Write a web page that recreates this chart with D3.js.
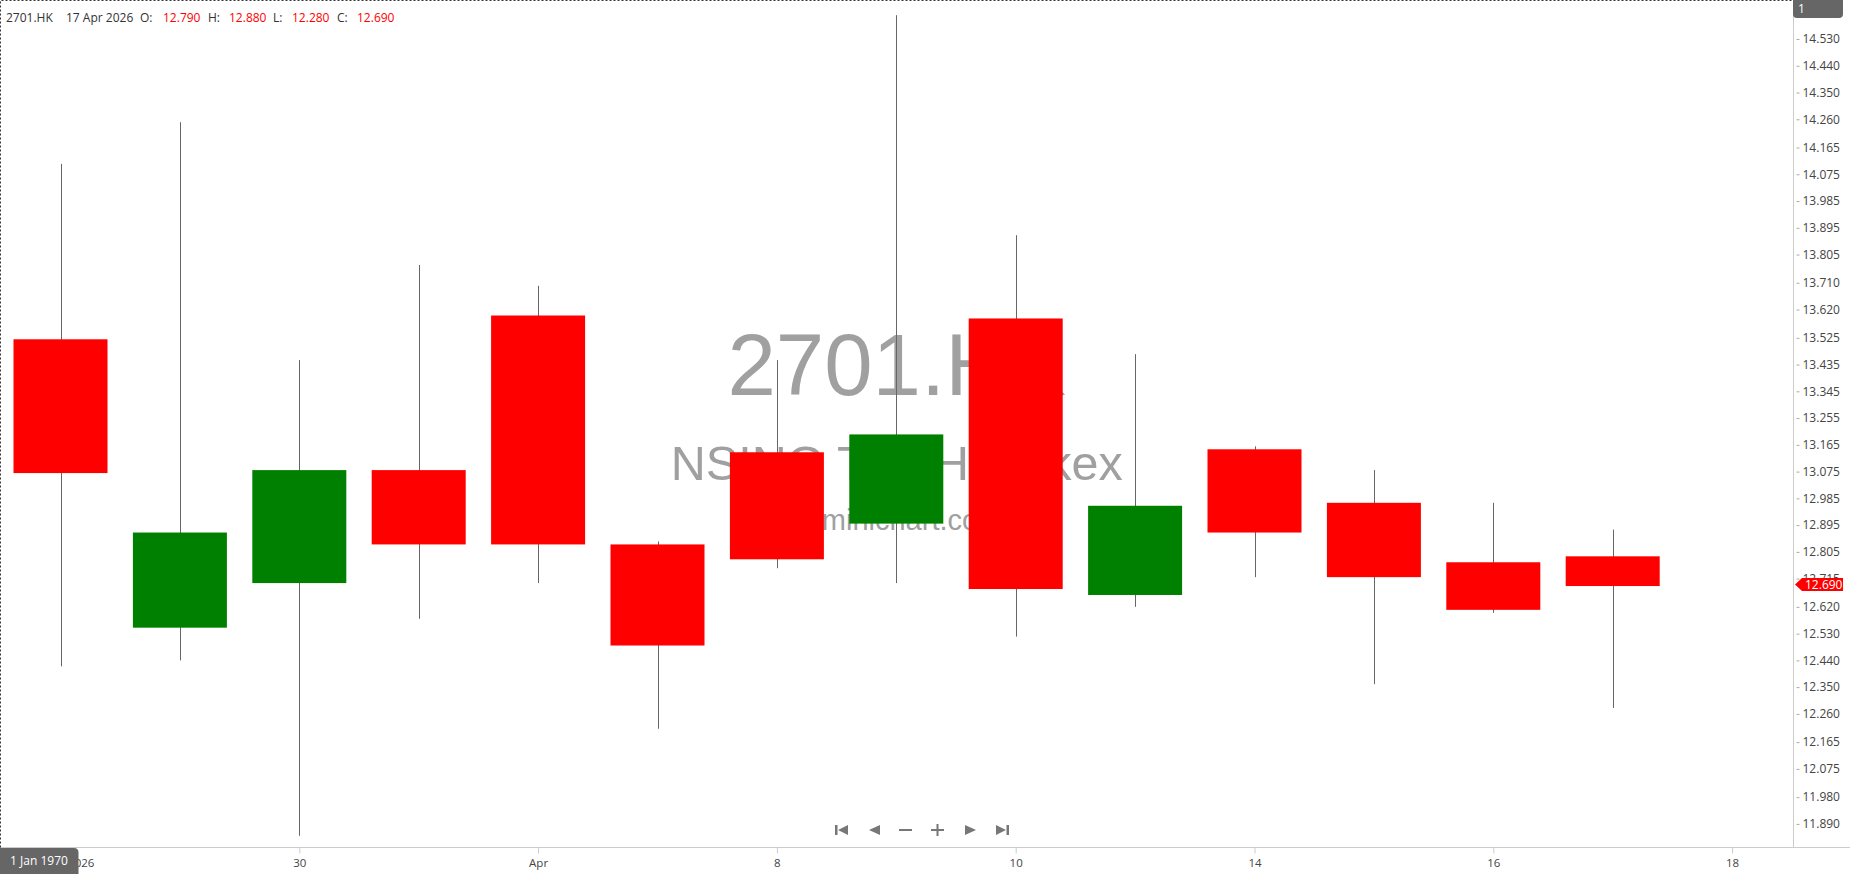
<!DOCTYPE html>
<html>
<head>
<meta charset="utf-8">
<script src="https://cdn.jsdelivr.net/npm/d3@7/dist/d3.min.js"></script>
<style>
    body { margin: 0; background: #fff; overflow: hidden; }
    #testbed text { font-family: "Open Sans", "Noto Sans", sans-serif; }
</style>
</head>
<body>
<div id="testbed"></div>
<script>

//Chart values (one entry per trading day)
var dates = ["26 Mar 2026","27 Mar 2026","30 Mar 2026","31 Mar 2026","1 Apr 2026","2 Apr 2026","8 Apr 2026",
    "9 Apr 2026","10 Apr 2026","13 Apr 2026","14 Apr 2026","15 Apr 2026","16 Apr 2026","17 Apr 2026"];
var opens  = [13.52, 12.55, 12.70, 13.08, 13.60, 12.83, 13.14, 12.90, 13.59, 12.66, 13.15, 12.97, 12.77, 12.79];
var highs  = [14.11, 14.25, 13.45, 13.77, 13.70, 12.84, 13.45, 14.61, 13.87, 13.47, 13.16, 13.08, 12.97, 12.88];
var lows   = [12.42, 12.44, 11.85, 12.58, 12.70, 12.21, 12.75, 12.70, 12.52, 12.62, 12.72, 12.36, 12.60, 12.28];
var closes = [13.07, 12.87, 13.08, 12.83, 12.83, 12.49, 12.78, 13.20, 12.68, 12.96, 12.87, 12.72, 12.61, 12.69];

//Axis labels
var xTickIndex = [0, 2, 4, 6, 8, 10, 12, 14];
var xTickLabels = ["26 Mar 2026", "30", "Apr", "8", "10", "14", "16", "18"];
var priceTicks = [14.530, 14.440, 14.350, 14.260, 14.165, 14.075, 13.985, 13.895, 13.805, 13.710,
    13.620, 13.525, 13.435, 13.345, 13.255, 13.165, 13.075, 12.985, 12.895, 12.805,
    12.715, 12.620, 12.530, 12.440, 12.350, 12.260, 12.165, 12.075, 11.980, 11.890];

var symbol = "2701.HK";
var company = "NSING TECH - Hkex";
var site = "www.minichart.com.sg";

//System dimensions
var width = 1850;
var height = 874;
var plotRight = 1793.5;
var plotBottom = 847.5;

var candles = dates.map(function(d, i) {
    return {date: d, i: i, o: opens[i], h: highs[i], l: lows[i], c: closes[i]};
});
var last = candles[candles.length - 1];

//Scales
var x = d3.scaleLinear()
    .domain([0, 14])
    .range([60.5, 1732.1]);
var y = d3.scaleLinear()
    .domain([11.890, 14.530])
    .range([823.9, 39]);
var bodyWidth = 94;

//Main Canvas
var svg = d3.select("#testbed")
    .append("svg")
    .attr("width", width)
    .attr("height", height);

svg.append("rect")
    .attr("width", width)
    .attr("height", height)
    .attr("fill", "#fff");

//Watermark
var mark = svg.append("g")
    .attr("fill", "#a0a0a0")
    .attr("text-anchor", "middle");
mark.append("text")
    .attr("x", plotRight / 2)
    .attr("y", 395)
    .style("font-family", "'Liberation Sans', Arial, sans-serif")
    .style("font-size", "87px")
    .text(symbol);
mark.append("text")
    .attr("x", plotRight / 2)
    .attr("y", 480)
    .style("font-family", "'Liberation Sans', Arial, sans-serif")
    .style("font-size", "48.5px")
    .text(company);
mark.append("text")
    .attr("x", plotRight / 2)
    .attr("y", 530)
    .style("font-family", "'Liberation Sans', Arial, sans-serif")
    .style("font-size", "29px")
    .text(site);

//Wicks
svg.append("g")
    .selectAll("line")
    .data(candles)
    .enter()
    .append("line")
    .attr("x1", function(d) { return Math.round(x(d.i)) + 0.5; })
    .attr("x2", function(d) { return Math.round(x(d.i)) + 0.5; })
    .attr("y1", function(d) { return y(d.h); })
    .attr("y2", function(d) { return y(d.l); })
    .attr("stroke", "#666")
    .attr("stroke-width", 1);

//Bodies
svg.append("g")
    .selectAll("rect")
    .data(candles)
    .enter()
    .append("rect")
    .attr("x", function(d) { return x(d.i) - bodyWidth / 2; })
    .attr("y", function(d) { return y(Math.max(d.o, d.c)); })
    .attr("width", bodyWidth)
    .attr("height", function(d) { return Math.max(1, Math.abs(y(d.o) - y(d.c))); })
    .attr("fill", function(d) { return d.c >= d.o ? "#008000" : "#ff0000"; });

//Frame lines
svg.append("line")
    .attr("x1", 0).attr("x2", width)
    .attr("y1", plotBottom).attr("y2", plotBottom)
    .attr("stroke", "#ccc");
svg.append("line")
    .attr("x1", plotRight).attr("x2", plotRight)
    .attr("y1", 0).attr("y2", plotBottom)
    .attr("stroke", "#ccc");
svg.append("path")
    .attr("d", "M0.5," + plotBottom + "V0.5H" + plotRight)
    .attr("fill", "none")
    .attr("stroke", "#333")
    .attr("stroke-dasharray", "2,2");

//Price axis
var yAxis = svg.append("g")
    .attr("transform", "translate(" + plotRight + ",0)")
    .call(d3.axisRight(y)
        .tickValues(priceTicks)
        .tickFormat(d3.format(".3f"))
        .tickSize(6)
        .tickPadding(3));
yAxis.select(".domain").remove();
yAxis.selectAll(".tick line")
    .attr("x1", 3)
    .attr("stroke", "#aaa");
yAxis.selectAll(".tick text")
    .attr("fill", "#444")
    .style("font-size", "12px");

//Date axis
var xAxis = svg.append("g")
    .attr("transform", "translate(0," + plotBottom + ")")
    .call(d3.axisBottom(x)
        .tickValues(xTickIndex)
        .tickFormat(function(d, i) { return xTickLabels[i]; })
        .tickSize(6)
        .tickPadding(5));
xAxis.select(".domain").remove();
xAxis.selectAll(".tick line").attr("stroke", "#ccc");
xAxis.selectAll(".tick text")
    .attr("fill", "#444")
    .style("font-size", "11.5px");

//Last price tag
var tagY = y(last.c) - 1.5;
svg.append("path")
    .attr("d", "M1795," + tagY + "L1802," + (tagY - 6.5) + "H1843V" + (tagY + 6.5) + "H1802Z")
    .attr("fill", "#ff0000");
svg.append("text")
    .attr("x", 1805)
    .attr("y", tagY)
    .attr("dy", "0.35em")
    .attr("fill", "#fff")
    .style("font-size", "12px")
    .text(d3.format(".3f")(last.c));

//Scale box top right
svg.append("path")
    .attr("d", "M1793,0H1843V14Q1843,18 1839,18H1797Q1793,18 1793,14Z")
    .attr("fill", "#666");
svg.append("text")
    .attr("x", 1798)
    .attr("y", 9)
    .attr("dy", "0.35em")
    .attr("fill", "#fff")
    .style("font-size", "12px")
    .text("1");

//Crosshair date box bottom left
svg.append("path")
    .attr("d", "M0,848H74Q78.5,848 78.5,852.5V874H0Z")
    .attr("fill", "#666");
svg.append("text")
    .attr("x", 39)
    .attr("y", 861)
    .attr("dy", "0.35em")
    .attr("text-anchor", "middle")
    .attr("fill", "#fff")
    .style("font-size", "12px")
    .text("1 Jan 1970");

//Navigation buttons
var nav = svg.append("g").attr("fill", "#777").attr("stroke", "#777");
nav.append("path").attr("stroke", "none").attr("d", "M835,825h2.5v10h-2.5Z M848,825v10l-10,-5Z");
nav.append("path").attr("stroke", "none").attr("d", "M880,825v10l-11,-5Z");
nav.append("line").attr("x1", 899).attr("x2", 912).attr("y1", 830).attr("y2", 830).attr("stroke-width", 2);
nav.append("line").attr("x1", 931).attr("x2", 944).attr("y1", 830).attr("y2", 830).attr("stroke-width", 2);
nav.append("line").attr("x1", 937.5).attr("x2", 937.5).attr("y1", 824).attr("y2", 836).attr("stroke-width", 2);
nav.append("path").attr("stroke", "none").attr("d", "M965,825v10l11,-5Z");
nav.append("path").attr("stroke", "none").attr("d", "M996,825v10l10,-5Z M1006.5,825h2.5v10h-2.5Z");

//Header (OHLC of last bar)
var header = svg.append("text")
    .attr("x", 6)
    .attr("y", 18)
    .attr("dy", "0.35em")
    .style("font-size", "12px")
    .attr("fill", "#333");
var fmt = d3.format(".3f");
var parts = [
    [symbol, "#333", 6], [last.date, "#333", 66],
    ["O:", "#333", 140], [fmt(last.o), "#ff0000", 163],
    ["H:", "#333", 208], [fmt(last.h), "#ff0000", 229],
    ["L:", "#333", 273], [fmt(last.l), "#ff0000", 292],
    ["C:", "#333", 337], [fmt(last.c), "#ff0000", 357]
];
header.selectAll("tspan")
    .data(parts)
    .enter()
    .append("tspan")
    .attr("x", function(d) { return d[2]; })
    .attr("fill", function(d) { return d[1]; })
    .text(function(d) { return d[0]; });

</script>
</body>
</html>
